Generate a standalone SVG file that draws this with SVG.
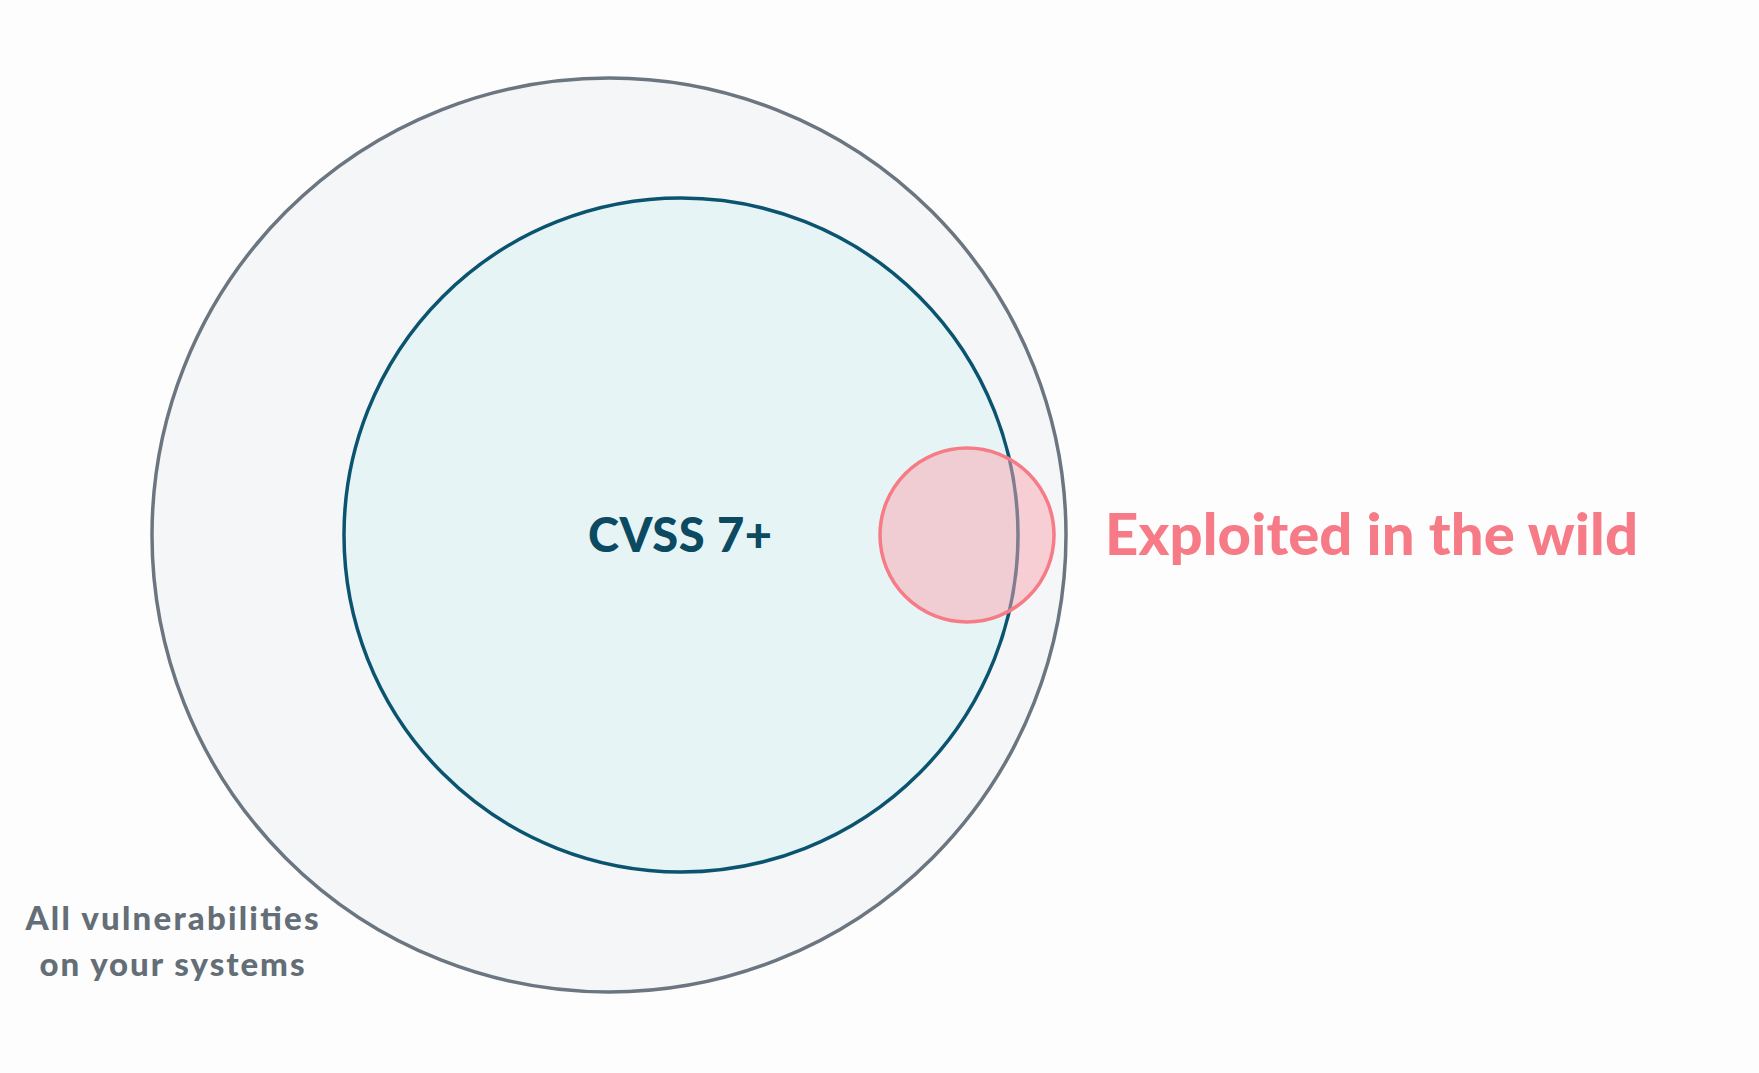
<svg xmlns="http://www.w3.org/2000/svg" width="1759" height="1073" viewBox="0 0 1759 1073">
<style>
text{font-family:"Lato","Noto Sans",sans-serif;font-weight:900}
</style>
<rect width="1759" height="1073" fill="#fdfdfd"/>
<g id="all">
<circle cx="609" cy="535" r="457" fill="#f5f6f8" stroke="#6b7680" stroke-width="3.5"/>
<text x="172" y="930" font-size="33" fill="#646e76" text-anchor="middle" textLength="293">All vulnerabilities</text>
<text x="172" y="976" font-size="33" fill="#646e76" text-anchor="middle" textLength="265">on your systems</text>
</g>
<g id="cvss">
<circle cx="681" cy="535" r="337" fill="#e7f4f6" stroke="#0b5470" stroke-width="3.5"/>
<text x="680" y="552" font-size="47" fill="#0b4a60" text-anchor="middle" textLength="184">CVSS 7+</text>
</g>
<g id="exploited">
<circle cx="967" cy="535" r="87" fill="#f8a6ae" fill-opacity="0.5" stroke="#f67b86" stroke-width="3.5"/>
<text x="1105" y="555" font-size="58" fill="#f67b86" textLength="533">Exploited in the wild</text>
</g>
<g id="connectors"/>
</svg>
